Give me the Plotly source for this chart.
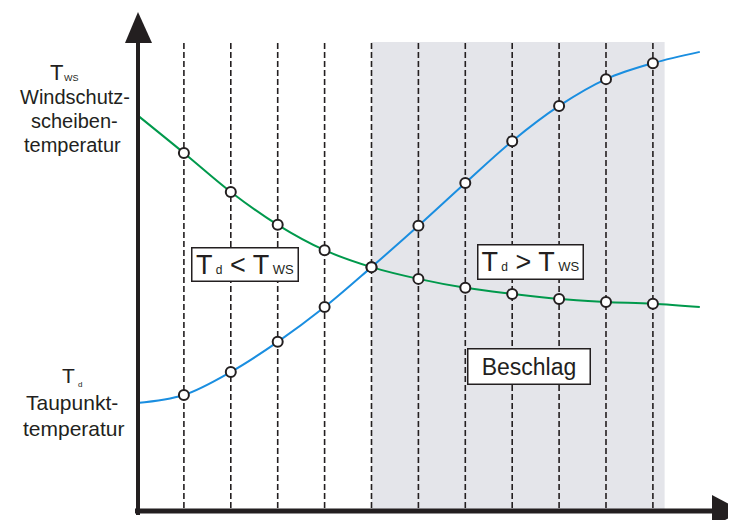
import plotly.graph_objects as go

# time steps marked by the dashed lines; the curves run a bit past both ends
steps = [1, 2, 3, 4, 5, 6, 7, 8, 9, 10, 11]
curve_x = [0] + steps + [12]

# windscreen temperature (green) and dew point temperature (blue), arbitrary units
t_ws = [84.5, 76.4, 68.1, 61.1, 55.7, 52.1, 49.6, 47.7, 46.4, 45.3, 44.7, 44.3, 43.6]
t_d = [23.2, 24.9, 29.8, 36.2, 43.6, 52.1, 60.9, 70.0, 78.9, 86.4, 92.1, 95.5, 97.9]

fog_from, fog_to = 5, 11.25   # T_d > T_ws -> Beschlag
y_top = 100

# the page body has an 8px margin, so the figure starts at (8, 8) on screen
OFF = 8
W, H = 736 - OFF, 520 - OFF
X0, DX = 137, 46.9    # screen pixel of x=0 and pixels per step
Y0, DY = 512, 4.7     # screen pixel of y=0 and pixels per unit

def xv(px):
    return (px - X0) / DX

def yv(py):
    return (Y0 - py) / DY

INK = "#231f20"
FONT = "Liberation Sans, Arial"

fig = go.Figure()

fig.add_trace(go.Scatter(x=curve_x, y=t_ws, mode="lines", line_shape="spline",
                         line=dict(color="#00994c", width=2), hoverinfo="skip"))
fig.add_trace(go.Scatter(x=curve_x, y=t_d, mode="lines", line_shape="spline",
                         line=dict(color="#1a8ee0", width=2), hoverinfo="skip"))
for ys in (t_ws, t_d):
    fig.add_trace(go.Scatter(x=steps, y=ys[1:-1], mode="markers",
                             marker=dict(size=10, color="white",
                                         line=dict(color=INK, width=2)),
                             hoverinfo="skip"))

shapes = [
    dict(type="rect", x0=fog_from, x1=fog_to, y0=0, y1=y_top, layer="below",
         fillcolor="#e4e5ea", line=dict(width=0)),
]
for s in steps:
    shapes.append(dict(type="line", x0=s, x1=s, y0=yv(508), y1=y_top, layer="below",
                       line=dict(color=INK, width=1.6, dash="6px,3px")))
# axes with arrow heads
shapes += [
    dict(type="line", x0=xv(138), x1=xv(138), y0=yv(515), y1=yv(40),
         line=dict(color=INK, width=4)),
    dict(type="path", fillcolor=INK, line=dict(width=0),
         path=f"M {xv(125)},{yv(43)} L {xv(138)},{yv(12)} L {xv(152)},{yv(43)} Z"),
    dict(type="line", x0=xv(135), x1=xv(715), y0=yv(511), y1=yv(511),
         line=dict(color=INK, width=5)),
    dict(type="path", fillcolor=INK, line=dict(width=0),
         path=f"M {xv(712)},{yv(495)} L {xv(742)},{yv(511)} L {xv(712)},{yv(527)} Z"),
]

def label(text, px, py, size, **kw):
    fig.add_annotation(text=text, x=(px - OFF) / W, y=1 - (py - OFF) / H,
                       xref="paper", yref="paper", xanchor="center", yanchor="middle",
                       showarrow=False, font=dict(size=size, color=INK, family=FONT), **kw)

# left axis labels
label("T", 56, 72, 22)
label("WS", 71, 78, 9)
label("Windschutz-", 75, 97, 20)
label("scheiben-", 74, 121, 20)
label("temperatur", 72, 145, 20)
label("T", 68, 375, 21)
label("d", 80, 384, 8)
label("Taupunkt-", 72, 402, 21)
label("temperatur", 74, 428, 21)

box = dict(bgcolor="white", bordercolor=INK, borderwidth=1.5, borderpad=0)
label("T<span style='font-size:12px'> d</span> &lt; T<span style='font-size:13px'> WS</span>",
      244.5, 264, 27, width=105, height=32, **box)
label("T<span style='font-size:12px'> d</span> &gt; T<span style='font-size:13px'> WS</span>",
      530, 262, 27, width=104, height=33, **box)
label("Beschlag", 528.5, 366, 23, width=121, height=34, **box)

fig.update_layout(
    width=W, height=H, margin=dict(l=0, r=0, t=0, b=0),
    paper_bgcolor="white", plot_bgcolor="white", showlegend=False,
    shapes=shapes,
    xaxis=dict(range=[xv(OFF), xv(736)], visible=False, fixedrange=True),
    yaxis=dict(range=[yv(520), yv(OFF)], visible=False, fixedrange=True),
)

fig.write_html("out.html")
